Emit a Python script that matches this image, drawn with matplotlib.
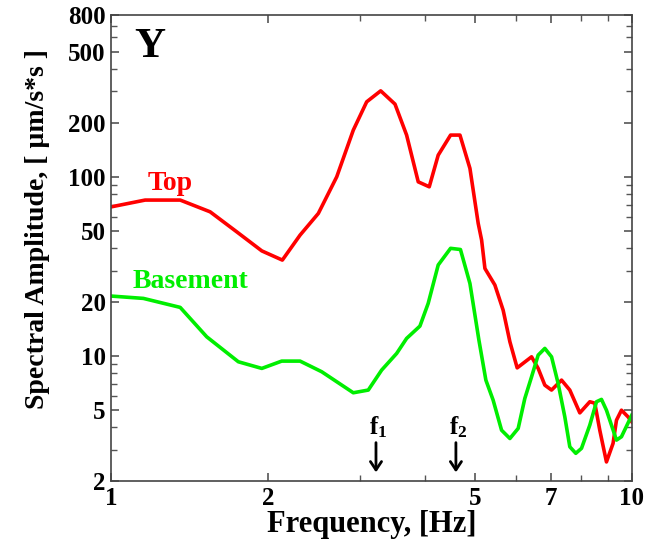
import matplotlib
matplotlib.use("Agg")
import matplotlib.pyplot as plt
from matplotlib.ticker import FixedLocator, NullFormatter, FixedFormatter

plt.rcParams['font.family'] = ['Liberation Serif', 'DejaVu Serif']
plt.rcParams['font.weight'] = 'bold'
plt.rcParams['mathtext.fontset'] = 'custom'
plt.rcParams['mathtext.rm'] = 'Liberation Serif:bold'
plt.rcParams['mathtext.bf'] = 'Liberation Serif:bold'
plt.rcParams['mathtext.it'] = 'Liberation Serif:bold'

# Top (red) spectrum
top_freq = [1.0, 1.162, 1.357, 1.549, 1.743, 1.947, 2.132, 2.306, 2.500, 2.712,
            2.918, 3.096, 3.294, 3.509, 3.694, 3.889, 4.083, 4.248, 4.487, 4.677,
            4.888, 5.070, 5.147, 5.223, 5.458, 5.662, 5.833, 6.024, 6.420, 6.610,
            6.808, 7.013, 7.330, 7.603, 7.947, 8.306, 8.492, 8.681, 8.941, 9.206,
            9.346, 9.555, 9.838, 10.0]
top_amp = [68.0, 74.2, 74.2, 63.8, 49.3, 38.6, 34.3, 47.3, 62.5, 100.1,
           182.4, 262.4, 302.2, 254.8, 171.1, 93.8, 88.0, 132.2, 171.1, 171.1,
           111.5, 55.0, 44.4, 30.8, 24.9, 18.0, 12.0, 8.58, 9.89, 8.52,
           6.87, 6.45, 7.33, 6.45, 4.81, 5.55, 5.45, 3.85, 2.56, 3.25,
           4.38, 4.98, 4.57, 4.29]

# Basement (green) spectrum
base_freq = [1.0, 1.153, 1.357, 1.526, 1.755, 1.947, 2.126, 2.306, 2.538, 2.918,
             3.118, 3.308, 3.535, 3.694, 3.918, 4.064, 4.248, 4.487, 4.687, 4.888,
             5.086, 5.245, 5.416, 5.622, 5.833, 6.051, 6.231, 6.420, 6.610, 6.808,
             7.013, 7.220, 7.437, 7.603, 7.807, 8.007, 8.306, 8.556, 8.746, 8.941,
             9.346, 9.555, 10.0]
base_amp = [21.6, 20.96, 18.67, 12.79, 9.28, 8.52, 9.36, 9.36, 8.16, 6.23,
            6.45, 8.34, 10.33, 12.53, 14.68, 19.66, 32.2, 39.9, 39.3, 25.4,
            12.26, 7.33, 5.67, 3.85, 3.46, 3.94, 5.79, 7.65, 10.11, 11.02,
            9.89, 7.03, 4.57, 3.11, 2.86, 3.05, 4.11, 5.55, 5.72, 4.98,
            3.39, 3.54, 4.67]

x_ticks = [1, 2, 5, 7, 10]
x_minor = [3, 4, 6, 8, 9]
y_ticks = [2, 5, 10, 20, 50, 100, 200, 500, 800]
y_minor = [3, 4, 6, 7, 8, 9, 30, 40, 60, 70, 80, 90, 300, 400, 600, 700]

marker_freqs = [3.226, 4.594]
marker_labels = ['f$_1$', 'f$_2$']

fig = plt.figure(figsize=(6.54, 5.40), dpi=100)
ax = fig.add_axes([0.170, 0.109, 0.796, 0.863])

ax.plot(top_freq, top_amp, color='#ff0000', lw=2.6)
ax.plot(base_freq, base_amp, color='#00ee00', lw=2.6)

ax.set_xscale('log')
ax.set_yscale('log')
ax.set_xlim(1, 10)
ax.set_ylim(2, 800)

ax.xaxis.set_major_locator(FixedLocator(x_ticks))
ax.xaxis.set_major_formatter(FixedFormatter([str(t) for t in x_ticks]))
ax.xaxis.set_minor_locator(FixedLocator(x_minor))
ax.xaxis.set_minor_formatter(NullFormatter())
ax.yaxis.set_major_locator(FixedLocator(y_ticks))
ax.yaxis.set_major_formatter(FixedFormatter([str(t) for t in y_ticks]))
ax.yaxis.set_minor_locator(FixedLocator(y_minor))
ax.yaxis.set_minor_formatter(NullFormatter())

ax.tick_params(which='both', direction='in', top=True, right=True, color='#555555')
ax.tick_params(which='major', length=6, width=1.2, labelsize=18, pad=4)
ax.tick_params(which='minor', length=4, width=1.0)
for s in ax.spines.values():
    s.set_color('#444444')
    s.set_linewidth(1.2)

ax.set_xlabel('Frequency, [Hz]', fontsize=22, fontweight='bold', labelpad=0)
ax.set_ylabel('Spectral Amplitude, [ µm/s*s ]', fontsize=20, fontweight='bold')
ax.yaxis.set_label_coords(-0.117, 0.541)

ax.text(1.188, 530, 'Y', fontsize=31, fontweight='bold', ha='center', va='center')
ax.text(1.298, 92, 'Top', fontsize=20, fontweight='bold', color='#ff0000', ha='center', va='center')
ax.text(1.418, 26.2, 'Basement', fontsize=20, fontweight='bold', color='#00ee00', ha='center', va='center')

for fx, lab in zip(marker_freqs, marker_labels):
    ax.annotate('', xy=(fx, 2.16), xytext=(fx, 3.4),
                arrowprops=dict(arrowstyle='->,head_length=0.6,head_width=0.4', lw=2, color='black'))
    ax.text(fx * 1.01, 4.0, lab, fontsize=18, ha='center', va='center')

fig.savefig('out.png', dpi=100)
